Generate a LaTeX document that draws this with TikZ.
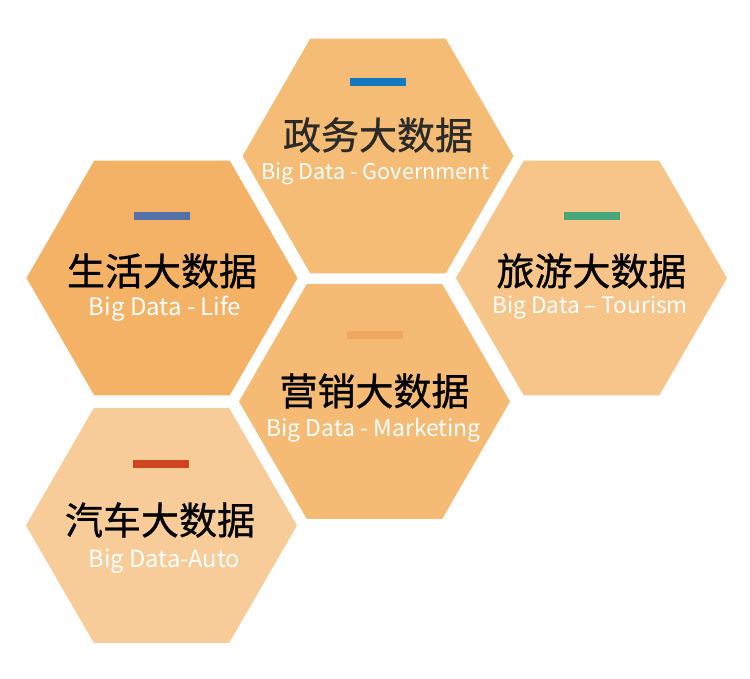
\documentclass[tikz,border=0pt]{standalone}
\usepackage{fontspec}
\setmainfont{Noto Sans CJK SC}
\newfontfamily\titlefont[FakeBold=0.8]{Noto Sans CJK SC}
\usetikzlibrary{shapes.geometric}
\definecolor{hexA}{HTML}{F5BC76}
\definecolor{hexB}{HTML}{F3B266}
\definecolor{hexC}{HTML}{F7C589}
\definecolor{hexD}{HTML}{F5BB74}
\definecolor{hexE}{HTML}{F7CC99}
\definecolor{barA}{HTML}{1479BE}
\definecolor{barB}{HTML}{5470A8}
\definecolor{barC}{HTML}{45A67A}
\definecolor{barD}{HTML}{F0A860}
\definecolor{barE}{HTML}{CF4520}
\definecolor{titleGray}{HTML}{2A2A2A}
\begin{document}
\begin{tikzpicture}[x=1pt,y=-1pt,
  hex/.style={regular polygon, regular polygon sides=6, minimum size=271pt, inner sep=0pt, outer sep=0pt},
  bar/.style={minimum width=56pt, minimum height=8pt, inner sep=0pt, outer sep=0pt},
  title/.style={font=\titlefont\fontsize{38}{38}\selectfont, inner sep=0pt},
  sub/.style={text=white, inner sep=0pt}]
\useasboundingbox (0,0) rectangle (750,678);
% hexagons
\node[hex, fill=hexA] (h1) at (378,156) {};
\node[hex, fill=hexB] (h2) at (162,278) {};
\node[hex, fill=hexC] (h3) at (591.5,278) {};
\node[hex, fill=hexD] (h4) at (374.5,401.5) {};
\node[hex, fill=hexE] (h5) at (161.5,525.5) {};
% bars
\node[bar, fill=barA] (b1) at (378,82) {};
\node[bar, fill=barB] (b2) at (161.5,216) {};
\node[bar, fill=barC] (b3) at (592,216) {};
\node[bar, fill=barD] (b4) at (375,335) {};
\node[bar, fill=barE] (b5) at (161,464) {};
% titles
\node[title, text=titleGray] (t1) at (378,135) {政务大数据};
\node[title] (t2) at (162,271) {生活大数据};
\node[title] (t3) at (591.5,271) {旅游大数据};
\node[title] (t4) at (374.5,391) {营销大数据};
\node[title] (t5) at (160,520) {汽车大数据};
% subtitles
\node[sub, font=\fontsize{21.7}{22}\selectfont] (s1) at (375.5,174) {Big Data - Government};
\node[sub, font=\fontsize{24}{24}\selectfont] (s2) at (165,309) {Big Data - Life};
\node[sub, font=\fontsize{22.6}{23}\selectfont] (s3) at (590,308) {Big Data – Tourism};
\node[sub, font=\fontsize{23}{23}\selectfont] (s4) at (373.5,430) {Big Data - Marketing};
\node[sub, font=\fontsize{23.7}{24}\selectfont] (s5) at (164.5,561) {Big Data-Auto};
\end{tikzpicture}
\end{document}
